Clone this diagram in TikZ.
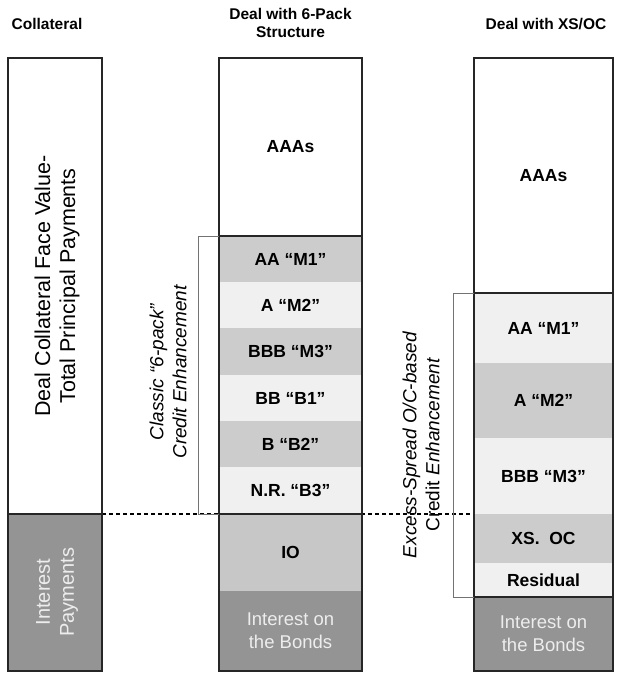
\documentclass[tikz,border=0pt]{standalone}
\usepackage{fontspec}
\setmainfont{Liberation Sans}
\begin{document}
\begin{tikzpicture}[x=1pt,y=-1pt,
  blk/.style={inner sep=0pt, outer sep=0pt, draw=none, align=center, font=\fontsize{17.5}{21}\selectfont\bfseries},
  lite/.style={fill=black!6},
  mid/.style={fill=black!20},
  dark/.style={fill=black!42, text=black!7, font=\fontsize{18.5}{23}\selectfont},
  edge/.style={line width=1.4pt, black!85},
  brace/.style={line width=0.8pt, black!55},
  head/.style={font=\fontsize{15.5}{18.5}\selectfont\bfseries, align=center},
  vtext/.style={rotate=90, align=center, font=\fontsize{19}{23}\selectfont}
]
\useasboundingbox (0,0) rectangle (616,674);

% headings
\node[head] (h1) at (47,24) {Collateral};
\node[head] (h2) at (290.5,23) {Deal with 6-Pack\\Structure};
\node[head] (h3) at (546,24) {Deal with XS/OC};

% left column
\node[blk, minimum width=94pt, minimum height=456pt, fill=white] (ltop) at (55,286) {};
\node[blk, dark, minimum width=94pt, minimum height=157pt] (lbot) at (55,592.5) {};
\node[vtext, font=\fontsize{21.5}{25}\selectfont] (ltext) at (57,286) {Deal Collateral Face Value-\\Total Principal Payments};
\node[vtext, text=black!7, font=\fontsize{20}{24}\selectfont] (lint) at (57,592) {Interest\\Payments};

% middle column
\node[blk, minimum width=143pt, minimum height=178pt, fill=white] (maaa) at (290.5,147) {AAAs};
\node[blk, mid,  minimum width=143pt, minimum height=46pt] (mm1) at (290.5,259) {AA “M1”};
\node[blk, lite, minimum width=143pt, minimum height=46pt] (mm2) at (290.5,305) {A “M2”};
\node[blk, mid,  minimum width=143pt, minimum height=47pt] (mm3) at (290.5,351.5) {BBB “M3”};
\node[blk, lite, minimum width=143pt, minimum height=46pt] (mb1) at (290.5,398) {BB “B1”};
\node[blk, mid,  minimum width=143pt, minimum height=46pt] (mb2) at (290.5,444) {B “B2”};
\node[blk, lite, minimum width=143pt, minimum height=47pt] (mb3) at (290.5,490.5) {N.R. “B3”};
\node[blk, fill=black!22, minimum width=143pt, minimum height=77pt] (mio) at (290.5,552.5) {IO};
\node[blk, dark, minimum width=143pt, minimum height=80pt] (mint) at (290.5,631) {Interest on\\the Bonds};

% right column
\node[blk, minimum width=139pt, minimum height=235pt, fill=white] (raaa) at (543.5,175.5) {AAAs};
\node[blk, lite, minimum width=139pt, minimum height=70pt] (rm1) at (543.5,328) {AA “M1”};
\node[blk, mid,  minimum width=139pt, minimum height=75pt] (rm2) at (543.5,400.5) {A “M2”};
\node[blk, lite, minimum width=139pt, minimum height=76pt] (rm3) at (543.5,476) {BBB “M3”};
\node[blk, mid,  minimum width=139pt, minimum height=49pt] (rxs) at (543.5,538.5) {XS.\ \ OC};
\node[blk, lite, minimum width=139pt, minimum height=34pt] (rres) at (543.5,580) {Residual};
\node[blk, dark, minimum width=139pt, minimum height=74pt] (rint) at (543.5,634) {Interest on\\the Bonds};

% dashed line between collateral and right column
\draw[line width=1.2pt, dash pattern=on 4pt off 3pt] (ltop.south east) -- (rm3.south west);

% outlines
\draw[edge] (ltop.north west) rectangle (lbot.south east);
\draw[edge] (ltop.south west) -- (ltop.south east);
\draw[edge] (maaa.north west) rectangle (mint.south east);
\draw[edge] (maaa.south west) -- (maaa.south east);
\draw[edge] (mb3.south west) -- (mb3.south east);
\draw[edge] (raaa.north west) rectangle (rint.south east);
\draw[edge] (raaa.south west) -- (raaa.south east);
\draw[edge] (rres.south west) -- (rres.south east);

% brackets
\coordinate (mbt) at ([xshift=-21pt]mm1.north west);
\coordinate (rbt) at ([xshift=-21pt]rm1.north west);
\draw[brace] (mm1.north west) -- (mbt) |- (mb3.south west);
\draw[brace] (rm1.north west) -- (rbt) |- (rres.south west);

% bracket labels
\node[vtext] (mlab) at (168,372) {\itshape Classic “6-pack”\\\itshape Credit Enhancement};
\node[vtext] (rlab) at (421,445) {\itshape Excess-Spread O/C-based\\Credit \itshape Enhancement};
\end{tikzpicture}
\end{document}
